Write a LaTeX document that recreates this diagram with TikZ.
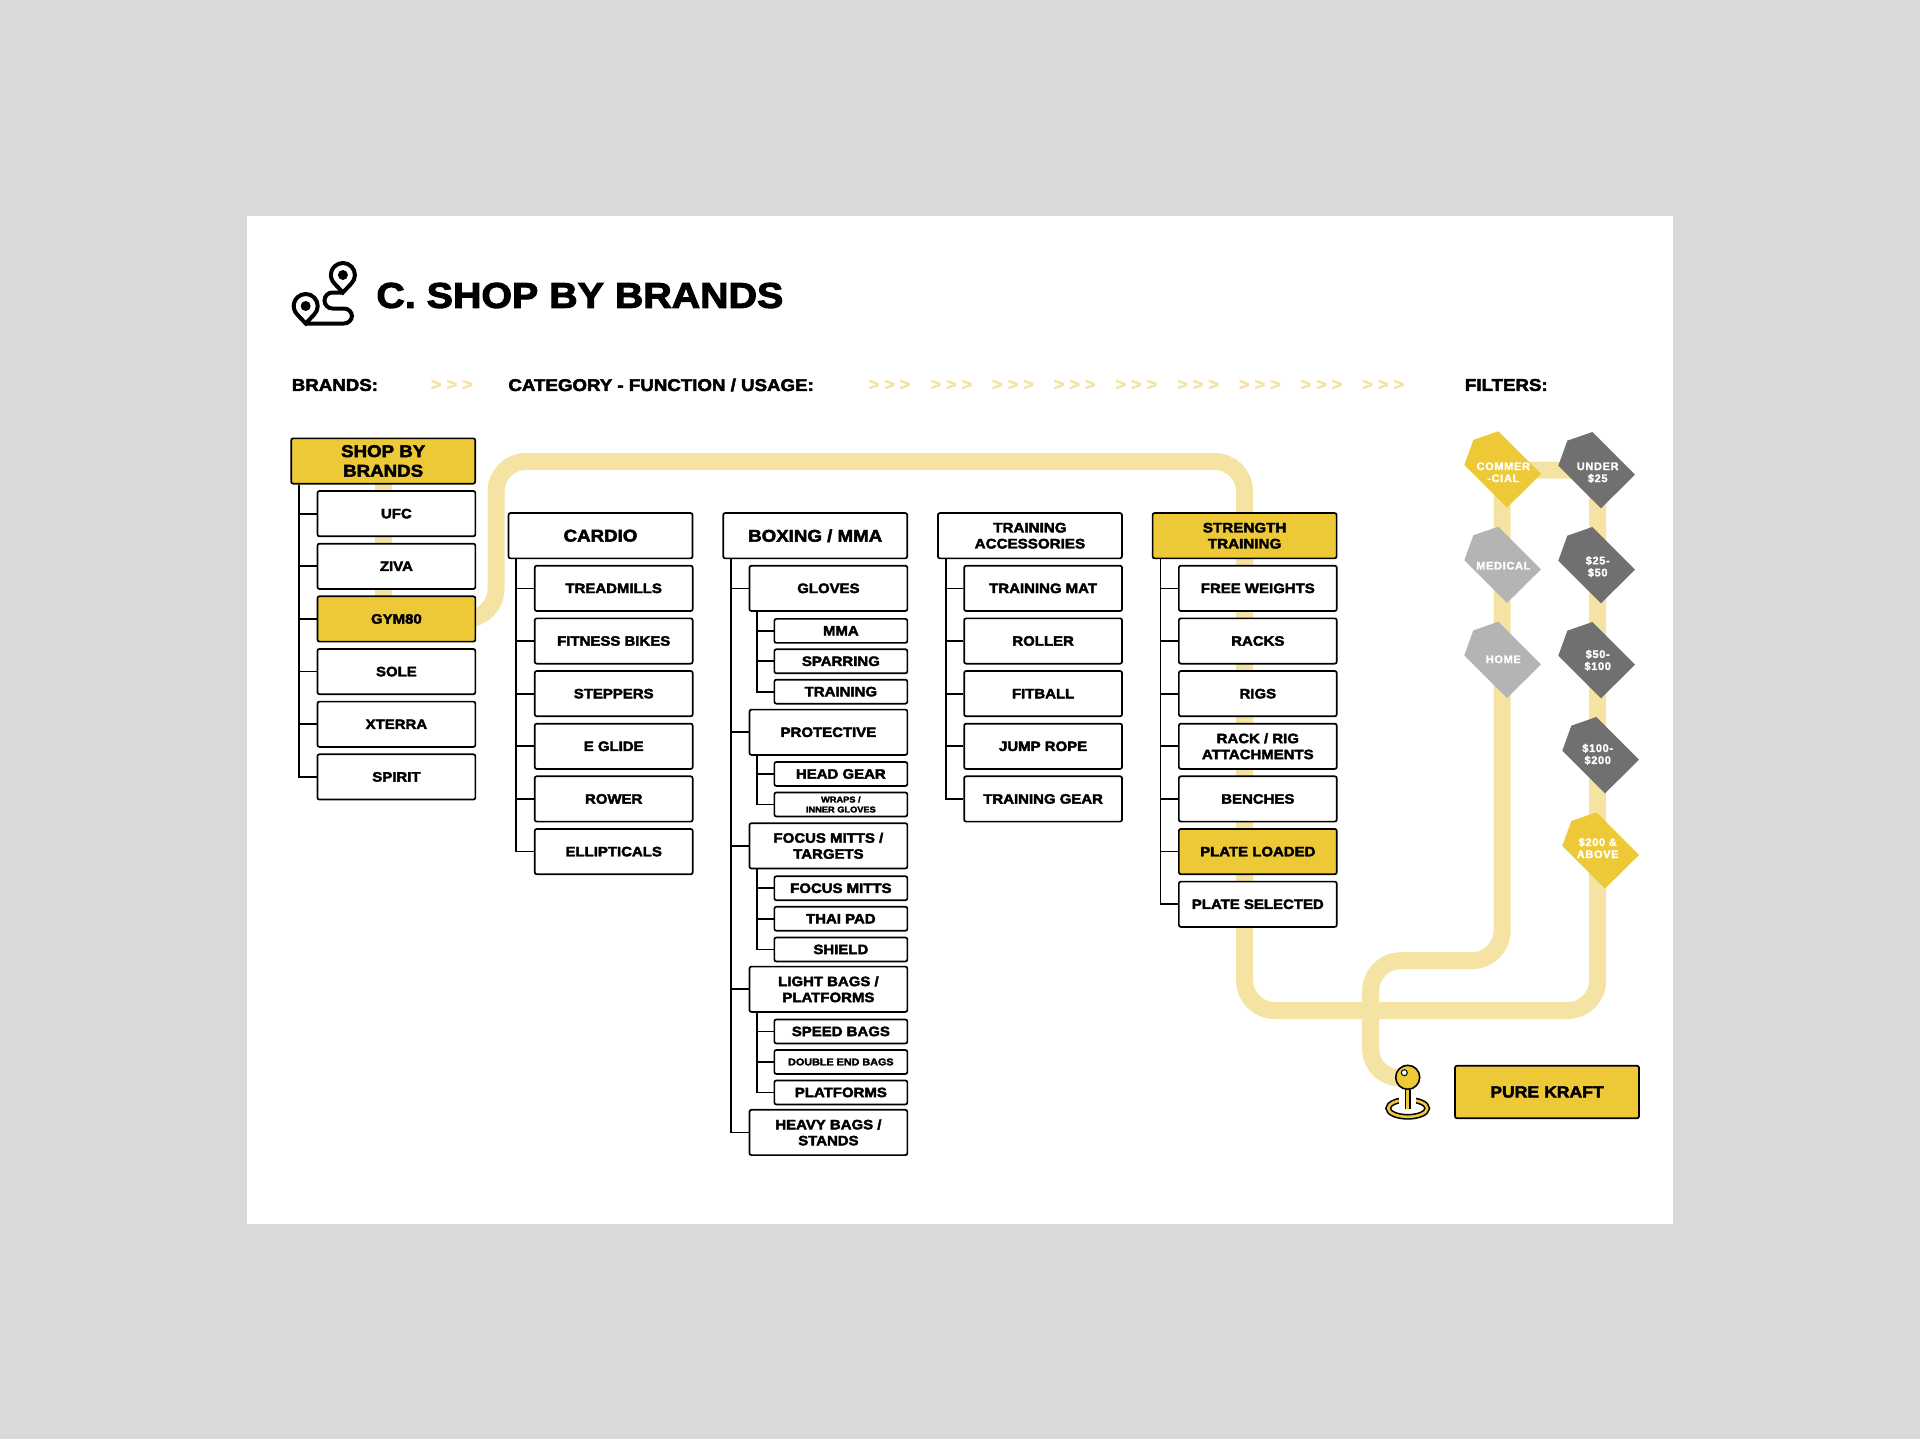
\documentclass[tikz,border=0pt]{standalone}
\usepackage{fontspec}
\usepackage{xcolor}
\usetikzlibrary{shapes.geometric, backgrounds}
\setmainfont{Liberation Sans}[UprightFont=* Bold, BoldFont=* Bold, FakeBold=2.8, FakeStretch=1.1]
\newfontfamily\tagFont{Liberation Sans}[UprightFont=* Bold, BoldFont=* Bold, FakeBold=1.6, LetterSpace=6]
\definecolor{kraftYellow}{HTML}{EDC937}
\definecolor{routeYellow}{HTML}{F5E3A3}
\definecolor{tagDark}{HTML}{717070}
\definecolor{tagLight}{HTML}{B3B4B3}
\definecolor{pageGrey}{HTML}{D9D9D9}
\tikzstyle{fBox} = [rectangle, rounded corners=1pt, inner sep=0pt, align=center, draw=black, line width=.85pt, fill=white, minimum height=22.65pt]
\tikzstyle{fHead} = [fBox, minimum width=92pt, font=\fontsize{8.5}{9.8}\selectfont]
\tikzstyle{fHeadSmall} = [fBox, minimum width=92pt, font=\fontsize{6.9}{8}\selectfont]
\tikzstyle{fItem} = [fBox, minimum width=78.95pt, font=\fontsize{6.8}{8}\selectfont]
\tikzstyle{fSub} = [fBox, minimum width=66.5pt, minimum height=12pt, font=\fontsize{6.8}{8}\selectfont]
\tikzstyle{fTiny} = [font=\fontsize{4.2}{5}\selectfont]
\tikzstyle{fOn} = [fill=kraftYellow]
\tikzstyle{fTree} = [line width=.85pt]
\tikzstyle{fRoute} = [line width=8.5pt, draw=routeYellow, rounded corners=15pt]
\tikzstyle{fLabel} = [anchor=west, inner sep=0pt, font=\fontsize{8.5}{9}\selectfont]
\tikzstyle{fChev} = [inner sep=0pt, text=routeYellow, font=\fontsize{8.2}{9}\selectfont]
\tikzstyle{fTag} = [inner sep=0pt, align=center, text=white, font=\tagFont\fontsize{5.5}{6}\selectfont]
\tikzstyle{fIcon} = [line width=2pt, line join=miter]

\begin{document}
\begin{tikzpicture}[x=.5pt, y=-.5pt, node distance=26.325pt]
    \useasboundingbox (0,0) rectangle (1920,1439);

    % heading
    \node (title) [fLabel, font=\fontsize{17.9}{19}\selectfont] at (376,295.5) {C. SHOP BY BRANDS};
    \node (brandsLabel) [fLabel] at (291.4,385) {BRANDS:};
    \node (categoryLabel) [fLabel] at (508,385) {CATEGORY - FUNCTION / USAGE:};
    \node (filtersLabel) [fLabel] at (1464.5,385) {FILTERS:};
    \node (chevBrands) [fChev] at (451.8,385) {> > >};
    \foreach \i in {0,...,8}
        \node (chev\i) [fChev] at (889.6+61.7*\i,385) {> > >};

    % icon
    \foreach \cx/\cy in {342.9/275,305.7/306} {
        \draw [fIcon] (\cx,\cy+17.5) -- (\cx+8.34,\cy+8.63) arc[start angle=46, end angle=-226, radius=12] -- cycle;
        \fill (\cx,\cy) circle[radius=5];
    }
    \draw [fIcon, rounded corners=4pt] (342.9,292.5) -- (324.5,292.5) -- (324.5,308.5) -- (352,308.5) -- (352,323.5) -- (305.7,323.5);

    % brands
    \node (brand) [fHead, fOn] at (383.2,461) {SHOP BY\\BRANDS};
    \node (ufc) [fItem, below of=brand, xshift=6.6pt] {UFC};
    \node (ziva) [fItem, below of=ufc] {ZIVA};
    \node (gym) [fItem, fOn, below of=ziva] {GYM80};
    \node (sole) [fItem, below of=gym] {SOLE};
    \node (xterra) [fItem, below of=sole] {XTERRA};
    \node (spirit) [fItem, below of=xterra] {SPIRIT};

    % cardio
    \node (cardio) [fHead] at (600.5,535.7) {CARDIO};
    \node (treadmills) [fItem, below of=cardio, xshift=6.6pt] {TREADMILLS};
    \node (fitness) [fItem, below of=treadmills] {FITNESS BIKES};
    \node (steppers) [fItem, below of=fitness] {STEPPERS};
    \node (eglide) [fItem, below of=steppers] {E GLIDE};
    \node (rower) [fItem, below of=eglide] {ROWER};
    \node (ellipticals) [fItem, below of=rower] {ELLIPTICALS};

    % boxing
    \node (boxing) [fHead, right of=cardio, node distance=107.35pt] {BOXING / MMA};
    \node (gloves) [fItem, below of=boxing, xshift=6.6pt] {GLOVES};
    \node (mma) [fSub, below of=gloves, node distance=21.25pt, xshift=6.23pt] {MMA};
    \node (sparring) [fSub, below of=mma, node distance=15.2pt] {SPARRING};
    \node (trainingSub) [fSub, below of=sparring, node distance=15.2pt] {TRAINING};
    \node (protective) [fItem, below of=trainingSub, node distance=20.3pt, xshift=-6.23pt] {PROTECTIVE};
    \node (headGear) [fSub, below of=protective, node distance=20.85pt, xshift=6.23pt] {HEAD GEAR};
    \node (wraps) [fSub, fTiny, below of=headGear, node distance=15.25pt] {WRAPS /\\INNER GLOVES};
    \node (focus) [fItem, below of=wraps, node distance=20.7pt, xshift=-6.23pt] {FOCUS MITTS /\\TARGETS};
    \node (focusMitts) [fSub, below of=focus, node distance=21.2pt, xshift=6.23pt] {FOCUS MITTS};
    \node (thaiPad) [fSub, below of=focusMitts, node distance=15.25pt] {THAI PAD};
    \node (shield) [fSub, below of=thaiPad, node distance=15.35pt] {SHIELD};
    \node (lightBags) [fItem, below of=shield, node distance=19.9pt, xshift=-6.23pt] {LIGHT BAGS /\\PLATFORMS};
    \node (speedBags) [fSub, below of=lightBags, node distance=21.1pt, xshift=6.23pt] {SPEED BAGS};
    \node (doubleEnd) [fSub, font=\fontsize{4.9}{6}\selectfont, below of=speedBags, node distance=15.25pt] {DOUBLE END BAGS};
    \node (platforms) [fSub, below of=doubleEnd, node distance=15.25pt] {PLATFORMS};
    \node (heavyBags) [fItem, below of=platforms, node distance=20pt, xshift=-6.23pt] {HEAVY BAGS /\\STANDS};

    % training accessories
    \node (accessories) [fHeadSmall, right of=boxing, node distance=107.35pt] {TRAINING\\ACCESSORIES};
    \node (trainingMat) [fItem, below of=accessories, xshift=6.6pt] {TRAINING MAT};
    \node (roller) [fItem, below of=trainingMat] {ROLLER};
    \node (fitball) [fItem, below of=roller] {FITBALL};
    \node (jumpRope) [fItem, below of=fitball] {JUMP ROPE};
    \node (trainingGear) [fItem, below of=jumpRope] {TRAINING GEAR};

    % strength training
    \node (strength) [fHeadSmall, fOn, right of=accessories, node distance=107.35pt] {STRENGTH\\TRAINING};
    \node (freeWeights) [fItem, below of=strength, xshift=6.6pt] {FREE WEIGHTS};
    \node (racks) [fItem, below of=freeWeights] {RACKS};
    \node (rigs) [fItem, below of=racks] {RIGS};
    \node (rackRig) [fItem, below of=rigs] {RACK / RIG\\ATTACHMENTS};
    \node (benches) [fItem, below of=rackRig] {BENCHES};
    \node (plateLoaded) [fItem, fOn, below of=benches] {PLATE LOADED};
    \node (plateSelected) [fItem, below of=plateLoaded] {PLATE SELECTED};

    % filters
    \foreach \nm/\tx/\ty/\polyX/\polyY/\col/\lab in {
        commercial/1503.3/472.3/1503.3/472.3/kraftYellow/{COMMER\\-CIAL},
        medical/1503.3/565.7/1503.3/567.6/tagLight/{MEDICAL},
        home/1503.3/659.3/1503.3/662.7/tagLight/{HOME},
        under/1597.7/472.7/1597.3/473/tagDark/{UNDER\\\$25},
        priceA/1597.7/566.7/1597.3/568/tagDark/{\$25-\\\$50},
        priceB/1597.7/660.3/1597.3/663/tagDark/{\$50-\\\$100},
        priceC/1597.7/754.3/1601.3/758/tagDark/{\$100-\\\$200},
        priceD/1597.7/848/1601.3/853.3/kraftYellow/{\$200 \&\\ABOVE}} {
        \fill [\col] (\polyX-5,\polyY-41) -- (\polyX+37.7,\polyY+1.7) -- (\polyX+3.7,\polyY+35.3) -- (\polyX-39,\polyY-7.3) -- (\polyX-30,\polyY-32.3) -- cycle;
        \node (\nm) [fTag] at (\tx,\ty) {\lab};
    }

    % end of the route
    \node (kraft) [fBox, fOn, minimum width=92pt, minimum height=26.3pt, font=\fontsize{8}{9}\selectfont] at (1547,1092) {PURE KRAFT};
    \node (pinRing) [ellipse, draw=black, line width=.8pt, double=kraftYellow, double distance=1.3pt, minimum width=19.5pt, minimum height=8.5pt, inner sep=0pt] at (1407.7,1108.3) {};
    \fill [white] (1399,1095) rectangle (1416.4,1105);
    \node (pinHead) [circle, draw=black, line width=.8pt, fill=kraftYellow, minimum size=12pt, inner sep=0pt] at (1407.7,1077.3) {};
    \coordinate (pinBase) at (1407.7,1108.5);
    \draw [line width=.8pt, double=kraftYellow, double distance=1.6pt] (pinHead.south) -- (pinBase);
    \fill [white, draw=black, line width=.5pt] (1404.3,1072.7) circle[radius=3];

    % tree lines
    \foreach \child in {ufc,ziva,gym,sole,xterra,spirit}
        \draw [fTree] ([xshift=4.3pt]brand.south west) |- (\child.west);
    \foreach \child in {treadmills,fitness,steppers,eglide,rower,ellipticals}
        \draw [fTree] ([xshift=4.3pt]cardio.south west) |- (\child.west);
    \foreach \child in {gloves,protective,focus,lightBags,heavyBags}
        \draw [fTree] ([xshift=4.3pt]boxing.south west) |- (\child.west);
    \foreach \child in {mma,sparring,trainingSub}
        \draw [fTree] ([xshift=4.3pt]gloves.south west) |- (\child.west);
    \foreach \child in {headGear,wraps}
        \draw [fTree] ([xshift=4.3pt]protective.south west) |- (\child.west);
    \foreach \child in {focusMitts,thaiPad,shield}
        \draw [fTree] ([xshift=4.3pt]focus.south west) |- (\child.west);
    \foreach \child in {speedBags,doubleEnd,platforms}
        \draw [fTree] ([xshift=4.3pt]lightBags.south west) |- (\child.west);
    \foreach \child in {trainingMat,roller,fitball,jumpRope,trainingGear}
        \draw [fTree] ([xshift=4.3pt]accessories.south west) |- (\child.west);
    \foreach \child in {freeWeights,racks,rigs,rackRig,benches,plateLoaded,plateSelected}
        \draw [fTree] ([xshift=4.3pt]strength.south west) |- (\child.west);

    % route and page, behind everything
    \coordinate (routeA) at (496,461.5);
    \coordinate (routeC) at (1244.6,1010.5);
    \coordinate (routeD) at (1597.7,1010.5);
    \coordinate (routeE) at (1597.7,470);
    \coordinate (routeF) at (1502,470);
    \coordinate (routeG) at (1502,960.7);
    \coordinate (routeH) at (1370.7,960.7);
    \coordinate (routeI) at (1370.7,1079);
    \begin{scope}[on background layer]
        \fill [pageGrey] (0,0) rectangle (1920,1439);
        \fill [white] (247,216) rectangle (1673,1224);
        \draw [fRoute] (brand.center) -- (brand.center |- gym.center);
        \draw [fRoute] (gym.center) -| (routeA) -| (routeC) -- (routeD) -- (routeE) -- (routeF) -- (routeG) -- (routeH) -- (routeI) -- (pinHead.center);
    \end{scope}
\end{tikzpicture}
\end{document}
